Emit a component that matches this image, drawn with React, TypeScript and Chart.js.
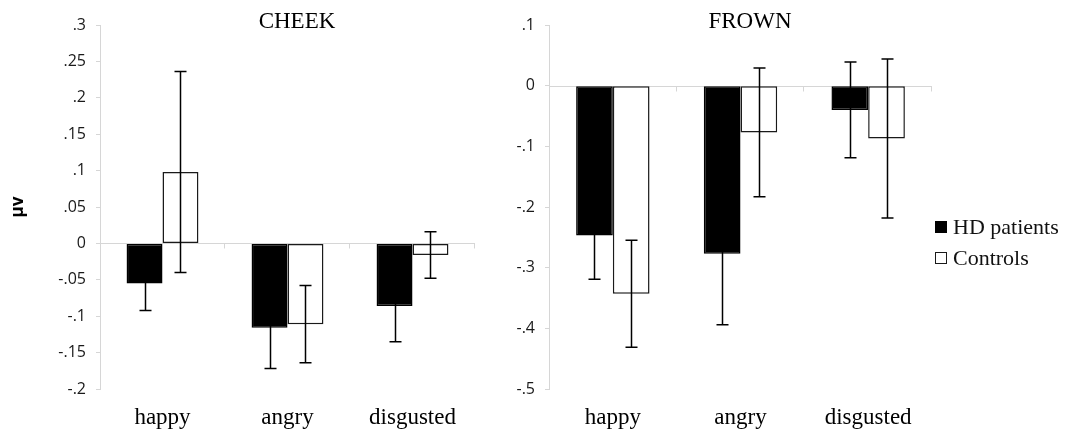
import React, { useEffect, useRef } from 'react';
import { Chart, registerables } from 'chart.js';

Chart.register(...registerables);

// ---------- data ----------
const categories = ['happy', 'angry', 'disgusted'];
const seriesNames = ['HD patients', 'Controls'];

const cheekHD = [-0.055, -0.116, -0.086];
const cheekHDErr = [0.037, 0.056, 0.049];
const cheekCtrl = [0.098, -0.111, -0.016];
const cheekCtrlErr = [0.138, 0.053, 0.032];

const frownHD = [-0.247, -0.277, -0.040];
const frownHDErr = [0.072, 0.117, 0.079];
const frownCtrl = [-0.343, -0.077, -0.087];
const frownCtrlErr = [0.088, 0.106, 0.131];

const cheekTickValues = [-0.2, -0.15, -0.1, -0.05, 0, 0.05, 0.1, 0.15, 0.2, 0.25, 0.3];
const cheekTickLabels = ['-.2', '-.15', '-.1', '-.05', '0', '.05', '.1', '.15', '.2', '.25', '.3'];
const frownTickValues = [-0.5, -0.4, -0.3, -0.2, -0.1, 0, 0.1];
const frownTickLabels = ['-.5', '-.4', '-.3', '-.2', '-.1', '0', '.1'];

// ---------- styles ----------
const SERIF = '"Liberation Serif", "Times New Roman", serif';
const SANS = '"Open Sans", "DejaVu Sans", sans-serif';
const AXIS_COLOR = '#d6d6d6';
const INK = '#1a1a1a';

const zeroLinePlugin = {
  id: 'zeroLine',
  beforeDatasetsDraw(chart: any) {
    const { ctx, chartArea, scales } = chart;
    const xs = scales.x;
    const y = Math.round(scales.y.getPixelForValue(0)) + 0.5;
    const n = chart.data.labels.length;
    ctx.save();
    ctx.strokeStyle = AXIS_COLOR;
    ctx.lineWidth = 1;
    ctx.beginPath();
    ctx.moveTo(chartArea.left, y);
    ctx.lineTo(chartArea.right, y);
    for (let k = 1; k <= n; k++) {
      const x = Math.round(xs.getPixelForValue(k - 0.5)) - 0.5;
      ctx.moveTo(x, y);
      ctx.lineTo(x, y + 5);
    }
    ctx.stroke();
    ctx.restore();
  },
};

const errorBarPlugin = {
  id: 'errorBars',
  afterDatasetsDraw(chart: any) {
    const { ctx } = chart;
    const ys = chart.scales.y;
    chart.data.datasets.forEach((ds: any, di: number) => {
      const meta = chart.getDatasetMeta(di);
      meta.data.forEach((bar: any, i: number) => {
        const v = ds.data[i];
        const e = ds.errors[i];
        const top = ys.getPixelForValue(v + e);
        const bot = ys.getPixelForValue(v - e);
        const x = Math.round(bar.x) + 0.5;
        ctx.save();
        ctx.strokeStyle = '#000';
        ctx.lineWidth = 1.5;
        ctx.beginPath();
        ctx.moveTo(x, top);
        ctx.lineTo(x, bot);
        ctx.moveTo(x - 6, top);
        ctx.lineTo(x + 6, top);
        ctx.moveTo(x - 6, bot);
        ctx.lineTo(x + 6, bot);
        ctx.stroke();
        ctx.restore();
      });
    });
  },
};

const sideLegendPlugin = {
  id: 'sideLegend',
  afterDraw(chart: any) {
    const { ctx, chartArea } = chart;
    const mid = (chartArea.top + chartArea.bottom) / 2;
    chart.data.datasets.forEach((ds: any, i: number) => {
      const cy = Math.round(mid + 20 + i * 31);
      const bx = Math.round(chartArea.right + 3);
      ctx.save();
      ctx.fillStyle = ds.backgroundColor;
      ctx.fillRect(bx, cy - 6, 12, 12);
      ctx.strokeStyle = ds.borderColor;
      ctx.lineWidth = 1;
      ctx.strokeRect(bx + 0.5, cy - 5.5, 11, 11);
      ctx.fillStyle = '#111';
      ctx.font = 'normal normal 400 22px "Liberation Serif", serif';
      ctx.textBaseline = 'middle';
      ctx.textAlign = 'left';
      ctx.fillText(ds.label, bx + 18, cy + 1);
      ctx.restore();
    });
  },
};

function makeConfig(p: {
  title: string;
  hd: number[];
  hdErr: number[];
  ctrl: number[];
  ctrlErr: number[];
  tickValues: number[];
  tickLabels: string[];
  axisWidth: number;
  padRight: number;
  yTitle: string | null;
  legend: boolean;
}): any {
  return {
    type: 'bar',
    data: {
      labels: categories,
      datasets: [
        {
          label: seriesNames[0],
          data: p.hd,
          errors: p.hdErr,
          backgroundColor: '#000000',
          borderColor: '#000000',
          borderWidth: 1.5,
          borderSkipped: false,
        },
        {
          label: seriesNames[1],
          data: p.ctrl,
          errors: p.ctrlErr,
          backgroundColor: '#ffffff',
          borderColor: '#1a1a1a',
          borderWidth: 1.5,
          borderSkipped: false,
        },
      ],
    },
    options: {
      responsive: false,
      animation: false,
      events: [],
      categoryPercentage: 0.575,
      barPercentage: 1,
      layout: { padding: 0 },
      plugins: {
        legend: { display: false },
        tooltip: { enabled: false },
        title: {
          display: true,
          text: p.title,
          color: '#000',
          font: { family: SERIF, size: 23, weight: 'normal', lineHeight: 1.2 },
          padding: { top: 8, bottom: -10.6 },
        },
      },
      scales: {
        x: {
          grid: { display: false, drawTicks: false },
          border: { display: false },
          ticks: {
            color: '#000',
            font: { family: SERIF, size: 23 },
            padding: 15,
            maxRotation: 0,
          },
          afterFit: (scale: any) => {
            scale.height = 48;
          },
        },
        y: {
          min: p.tickValues[0],
          max: p.tickValues[p.tickValues.length - 1],
          afterBuildTicks: (scale: any) => {
            scale.ticks = p.tickValues.map((value) => ({ value }));
          },
          grid: {
            drawOnChartArea: false,
            drawTicks: true,
            tickLength: 4,
            color: AXIS_COLOR,
          },
          border: { display: true, color: AXIS_COLOR },
          ticks: {
            color: INK,
            font: { family: SANS, size: 16 },
            padding: 10,
            callback: (_v: any, index: number) => p.tickLabels[index],
          },
          title: p.yTitle
            ? {
                display: true,
                text: p.yTitle,
                color: '#000',
                font: { family: SANS, size: 17, weight: 'bold' },
                padding: { top: 8, bottom: 0 },
              }
            : { display: false },
          afterFit: (scale: any) => {
            scale.width = p.axisWidth;
          },
        },
        // empty right-hand box that reserves room (legend side) without drawing anything
        side: {
          type: 'linear',
          position: 'right',
          display: true,
          grid: { display: false, drawTicks: false },
          border: { display: false },
          ticks: { display: false },
          afterFit: (scale: any) => {
            scale.width = p.padRight;
          },
        },
      },
    },
    plugins: p.legend
      ? [zeroLinePlugin, errorBarPlugin, sideLegendPlugin]
      : [zeroLinePlugin, errorBarPlugin],
  };
}

export default function App() {
  const leftRef = useRef<HTMLCanvasElement | null>(null);
  const rightRef = useRef<HTMLCanvasElement | null>(null);

  useEffect(() => {
    const charts: Chart[] = [];
    if (leftRef.current) {
      charts.push(
        new Chart(
          leftRef.current,
          makeConfig({
            title: 'CHEEK',
            hd: cheekHD,
            hdErr: cheekHDErr,
            ctrl: cheekCtrl,
            ctrlErr: cheekCtrlErr,
            tickValues: cheekTickValues,
            tickLabels: cheekTickLabels,
            axisWidth: 100,
            padRight: 119,
            yTitle: 'μv',
            legend: false,
          })
        )
      );
    }
    if (rightRef.current) {
      charts.push(
        new Chart(
          rightRef.current,
          makeConfig({
            title: 'FROWN',
            hd: frownHD,
            hdErr: frownHDErr,
            ctrl: frownCtrl,
            ctrlErr: frownCtrlErr,
            tickValues: frownTickValues,
            tickLabels: frownTickLabels,
            axisWidth: 117,
            padRight: 136,
            yTitle: null,
            legend: true,
          })
        )
      );
    }
    return () => {
      charts.forEach((c) => c.destroy());
    };
  }, []);

  return (
    <div
      style={{
        position: 'absolute',
        left: 0,
        top: 0,
        width: 1068,
        height: 437,
        background: '#ffffff',
        overflow: 'hidden',
      }}
    >
      <canvas
        ref={leftRef}
        width={594}
        height={437}
        style={{ position: 'absolute', left: 0, top: 0, width: 594, height: 437 }}
      />
      <canvas
        ref={rightRef}
        width={636}
        height={437}
        style={{ position: 'absolute', left: 432, top: 0, width: 636, height: 437 }}
      />
    </div>
  );
}
